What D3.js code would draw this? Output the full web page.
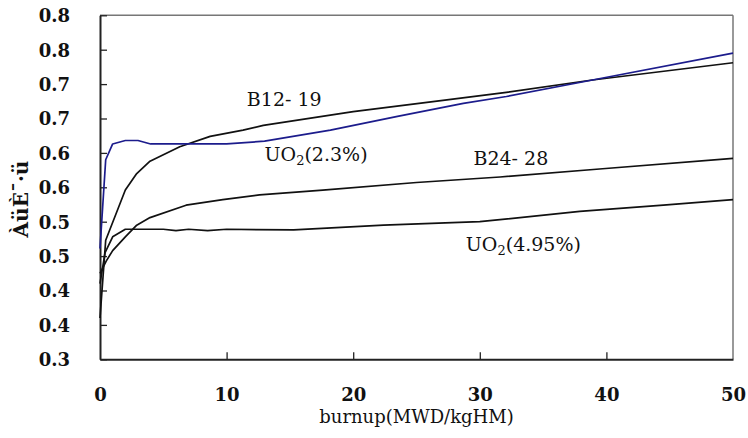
<!DOCTYPE html>
<html>
<head>
<meta charset="utf-8">
<script src="https://cdn.jsdelivr.net/npm/d3@7"></script>
<style>
  body { margin: 0; background: #fff; }
  text { font-family: "DejaVu Serif", "Liberation Serif", serif; fill: #111; }
</style>
</head>
<body>
<svg id="chart" width="748" height="438"></svg>
<script>
// burnup (MWD/kgHM) and values
var uo223X  = [0, 0.45, 1, 2, 3, 4, 7, 10, 13, 18.2, 23.5, 28.7, 32.1, 38.9, 50]
var uo223Y  = [0.461, 0.590, 0.613, 0.618, 0.618, 0.613, 0.613, 0.613, 0.617, 0.633, 0.653, 0.672, 0.682, 0.706, 0.745]

var b1219X  = [0, 0.45, 2, 2.9, 3.95, 6.3, 8.7, 11.3, 12.9, 20, 27.4, 32.1, 38.9, 50]
var b1219Y  = [0.36, 0.473, 0.546, 0.570, 0.588, 0.609, 0.624, 0.633, 0.640, 0.660, 0.677, 0.688, 0.706, 0.731]

var b2428X  = [0, 0.5, 1, 2, 2.9, 3.95, 6.8, 9.7, 12.6, 17.6, 25, 31.6, 39.7, 50]
var b2428Y  = [0.425, 0.443, 0.458, 0.478, 0.495, 0.506, 0.524, 0.532, 0.539, 0.546, 0.557, 0.565, 0.577, 0.592]

var uo2495X = [0, 0.4, 1, 2, 3, 5, 6, 7, 8.5, 10, 15.3, 22.4, 30, 37.9, 44.5, 50]
var uo2495Y = [0.41, 0.455, 0.478, 0.489, 0.489, 0.489, 0.487, 0.489, 0.487, 0.489, 0.488, 0.495, 0.500, 0.515, 0.524, 0.532]

var xTicks = [0, 10, 20, 30, 40, 50]
var yTicks = [0.30, 0.35, 0.40, 0.45, 0.50, 0.55, 0.60, 0.65, 0.70, 0.75, 0.80]
var yTickLabels = ["0.3", "0.4", "0.4", "0.5", "0.5", "0.6", "0.6", "0.7", "0.7", "0.8", "0.8"]

var svg = d3.select('#chart')
var mLeft = 100, mRight = 733, mTop = 15.3, mBottom = 359.3

var x = d3.scaleLinear().domain([0, 50]).range([mLeft, mRight])
var y = d3.scaleLinear().domain([0.3, 0.8]).range([mBottom, mTop])

// frame: grey top/right, dark left/bottom
svg.append('line').attr('x1', mLeft).attr('x2', mRight).attr('y1', mTop).attr('y2', mTop)
  .attr('stroke', '#777').attr('stroke-width', 1.5)
svg.append('line').attr('x1', mRight).attr('x2', mRight).attr('y1', mTop).attr('y2', mBottom)
  .attr('stroke', '#777').attr('stroke-width', 1.5)

var xAxis = svg.append('g').attr('transform', 'translate(0,' + mBottom + ')')
  .call(d3.axisBottom(x).tickValues(xTicks).tickSize(-7).tickPadding(29).tickSizeOuter(0))
var yAxis = svg.append('g').attr('transform', 'translate(' + mLeft + ',0)')
  .call(d3.axisLeft(y).tickValues(yTicks).tickSize(-7).tickPadding(30).tickSizeOuter(0)
    .tickFormat(function (d, i) { return yTickLabels[i] }))

;[xAxis, yAxis].forEach(function (g) {
  g.select('.domain').attr('stroke', '#222').attr('stroke-width', 2)
  g.selectAll('.tick line').attr('stroke', '#222').attr('stroke-width', 1.3)
  g.selectAll('.tick text').attr('fill', '#111')
    .style('font-size', '18px').style('font-weight', 'bold')
})
xAxis.selectAll('.tick line').filter(function (d) { return d === 0 || d === 50 }).remove()
yAxis.selectAll('.tick text').attr('dy', '0.36em')

// curves
var series = [
  { xs: b1219X, ys: b1219Y, color: '#111' },
  { xs: b2428X, ys: b2428Y, color: '#111' },
  { xs: uo2495X, ys: uo2495Y, color: '#111' },
  { xs: uo223X, ys: uo223Y, color: '#1c1c8c' }
]
var line = d3.line().x(function (d) { return x(d[0]) }).y(function (d) { return y(d[1]) })

series.forEach(function (s) {
  svg.append('path')
    .datum(s.xs.map(function (v, i) { return [v, s.ys[i]] }))
    .attr('d', line)
    .attr('fill', 'none')
    .attr('stroke', s.color)
    .attr('stroke-width', 1.7)
    .attr('stroke-linejoin', 'round')
})

// curve labels
function label(px, py, parts) {
  var t = svg.append('text').attr('x', x(px)).attr('y', y(py)).style('font-size', '19px')
  parts.forEach(function (p) {
    if (p.sub) t.append('tspan').text(p.t).attr('dy', 4).style('font-size', '13px')
    else t.append('tspan').text(p.t).attr('dy', p.after ? -4 : 0)
  })
}
label(11.6, 0.668, [{ t: 'B12- 19' }])
label(13.0, 0.588, [{ t: 'UO' }, { t: '2', sub: true }, { t: '(2.3%)', after: true }])
label(29.5, 0.582, [{ t: 'B24- 28' }])
label(28.9, 0.457, [{ t: 'UO' }, { t: '2', sub: true }, { t: '(4.95%)', after: true }])

// axis titles
svg.append('text').attr('x', x(25)).attr('y', 423).attr('text-anchor', 'middle')
  .style('font-size', '18px').text('burnup(MWD/kgHM)')
svg.append('text').attr('transform', 'translate(28,199) rotate(-90)').attr('text-anchor', 'middle')
  .style('font-size', '20px').style('font-weight', 'bold').text('ÀüÈ¯·ü')
</script>
</body>
</html>
